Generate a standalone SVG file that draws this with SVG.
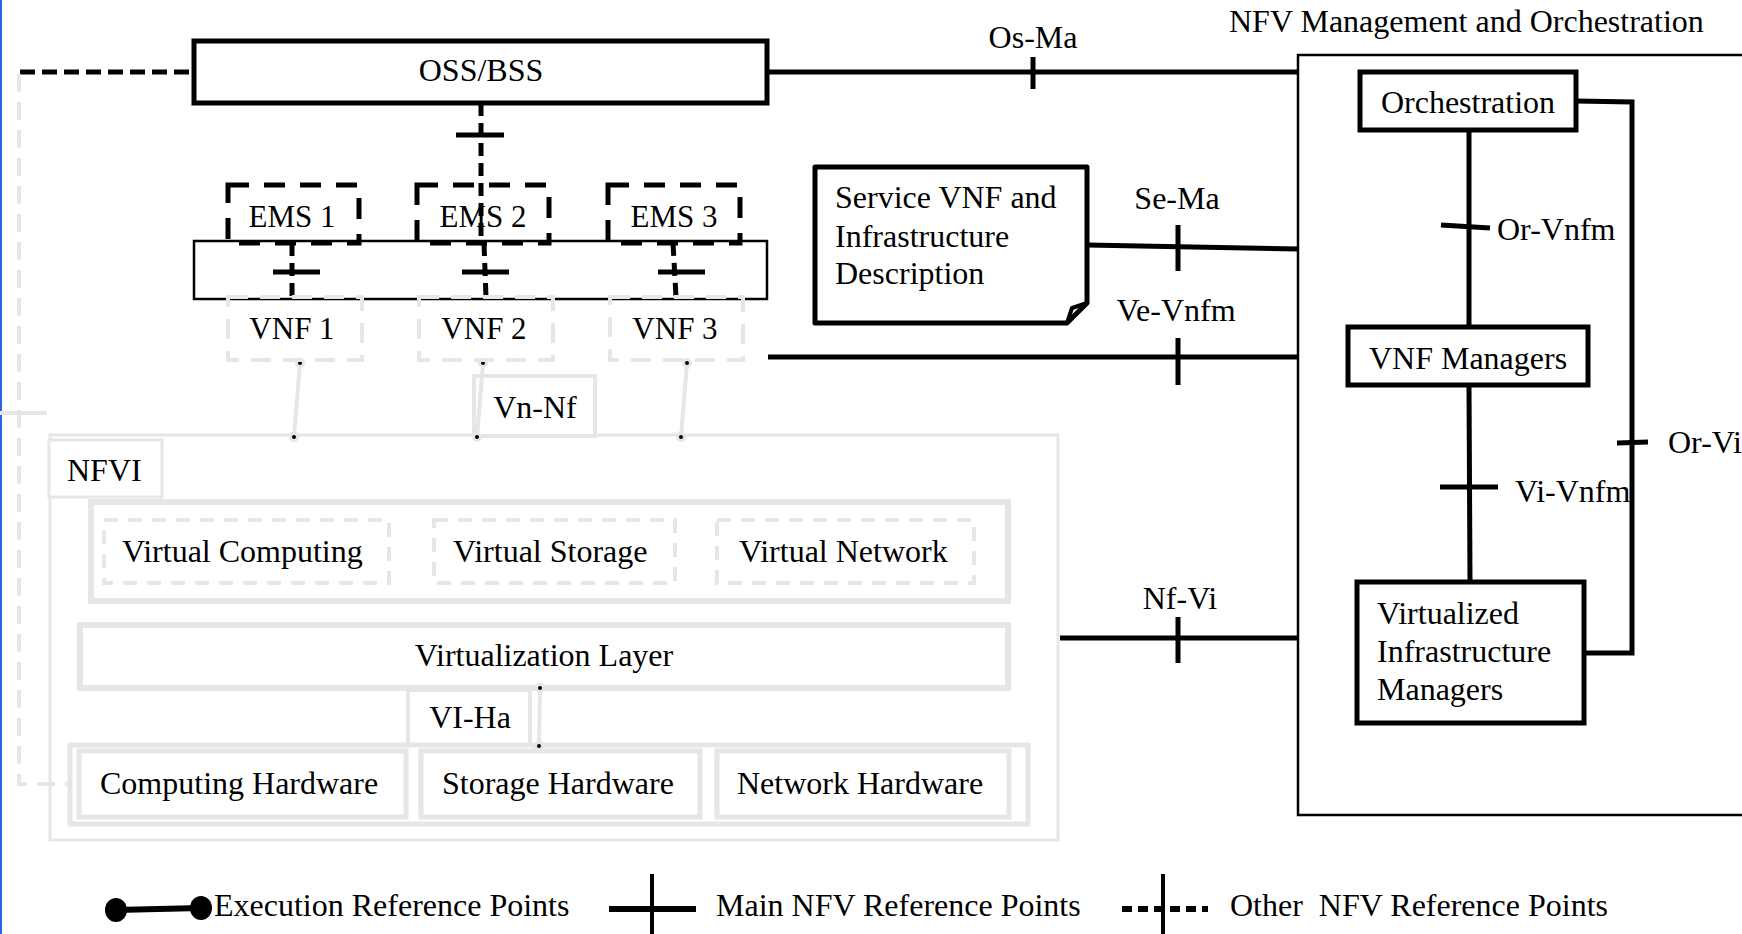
<svg xmlns="http://www.w3.org/2000/svg" width="1742" height="934" viewBox="0 0 1742 934">
<style>
text{font-family:"Liberation Serif","Times New Roman",serif;font-size:32px;fill:#000}
.s31{font-size:31px}
.mid{text-anchor:middle}
.box{fill:#fff;stroke:#000;stroke-width:5}
.thin{fill:none;stroke:#000;stroke-width:2.5}
.emsb{fill:none;stroke:#000;stroke-width:5;stroke-dasharray:21 15}
.vnfb{fill:none;stroke:#e6e6e6;stroke-width:4;stroke-dasharray:20 12}
.gb{fill:#fff;stroke:#e6e6e6}
.gd{fill:none;stroke:#e6e6e6;stroke-width:4;stroke-dasharray:14 10}
.main{fill:none;stroke:#000;stroke-width:5}
.tick{stroke:#000;stroke-width:5}
.other{fill:none;stroke:#000;stroke-width:5;stroke-dasharray:13 7}
.exec{fill:none;stroke:#e6e6e6;stroke-width:4}
.halo{fill:#e6e6e6}
.dot{fill:#000}
</style>
<rect x="0" y="0" width="1742" height="934" fill="#fff"/>
<line x1="1" y1="0" x2="1" y2="934" stroke="#2f62e0" stroke-width="2"/>

<g id="nfvi">
  <rect x="50" y="435" width="1008" height="405" fill="none" stroke="#e6e6e6" stroke-width="3"/>
  <rect x="49" y="440" width="113" height="57" class="gb" stroke-width="3"/>
  <text x="67" y="481">NFVI</text>
</g>

<g id="virtual-resources">
  <rect x="91" y="502" width="917" height="99" class="gb" stroke-width="6"/>
  <rect x="104" y="520" width="285" height="63" class="gd"/>
  <rect x="434" y="520" width="241" height="63" class="gd"/>
  <rect x="717" y="520" width="257" height="63" class="gd"/>
  <text x="122" y="562">Virtual Computing</text>
  <text x="453" y="562">Virtual Storage</text>
  <text x="739" y="562">Virtual Network</text>
</g>

<g id="virtualization-layer">
  <rect x="80" y="625" width="928" height="63" class="gb" stroke-width="6"/>
  <text x="544" y="666" class="mid">Virtualization Layer</text>
</g>

<g id="vi-ha">
  <rect x="408" y="690" width="122" height="55" class="gb" stroke-width="4"/>
  <text x="470" y="728" class="mid">VI-Ha</text>
</g>

<g id="hardware">
  <rect x="70" y="745" width="958" height="79" class="gb" stroke-width="5"/>
  <rect x="79" y="751" width="327" height="66" class="gb" stroke-width="5"/>
  <rect x="421" y="751" width="279" height="66" class="gb" stroke-width="5"/>
  <rect x="717" y="751" width="292" height="66" class="gb" stroke-width="5"/>
  <text x="100" y="794">Computing Hardware</text>
  <text x="442" y="794">Storage Hardware</text>
  <text x="737" y="794">Network Hardware</text>
</g>

<g id="vn-nf">
  <rect x="474" y="376" width="121" height="60" class="gb" stroke-width="4"/>
  <text x="535" y="418" class="mid">Vn-Nf</text>
</g>

<g id="connectors">
  <path d="M20,72 H194" stroke="#000" stroke-width="5" stroke-dasharray="15 7" fill="none"/>
  <path d="M19,74 V784 H72" stroke="#e6e6e6" stroke-width="4" stroke-dasharray="18 10" fill="none"/>
  <line x1="0" y1="413" x2="47" y2="413" stroke="#e6e6e6" stroke-width="4"/>
  <line x1="481" y1="103" x2="481" y2="241" class="other"/>
  <line x1="456" y1="135" x2="504" y2="135" class="tick" stroke-width="6"/>
  <line x1="292" y1="243" x2="292" y2="297" class="other"/>
  <line x1="273" y1="272" x2="320" y2="272" class="tick" stroke-width="6"/>
  <line x1="484" y1="243" x2="486" y2="297" class="other"/>
  <line x1="462" y1="272" x2="509" y2="272" class="tick" stroke-width="6"/>
  <line x1="673" y1="243" x2="676" y2="297" class="other"/>
  <line x1="658" y1="272" x2="705" y2="272" class="tick" stroke-width="6"/>
  <line x1="767" y1="72" x2="1298" y2="72" class="main"/>
  <line x1="1033" y1="57" x2="1033" y2="89" class="tick" stroke-width="4"/>
  <text x="1033" y="48" class="mid">Os-Ma</text>
  <line x1="1087" y1="245" x2="1298" y2="249" class="main"/>
  <line x1="1178" y1="225" x2="1178" y2="271" class="tick"/>
  <text x="1177" y="209" class="mid">Se-Ma</text>
  <line x1="768" y1="357" x2="1298" y2="357" class="main"/>
  <line x1="1178" y1="338" x2="1178" y2="385" class="tick"/>
  <text x="1176" y="321" class="mid">Ve-Vnfm</text>
  <line x1="1060" y1="638" x2="1298" y2="638" class="main"/>
  <line x1="1178" y1="617" x2="1178" y2="663" class="tick"/>
  <text x="1180" y="609" class="mid">Nf-Vi</text>
  <line x1="1469" y1="130" x2="1469" y2="327" class="main"/>
  <line x1="1441" y1="225" x2="1490" y2="228" class="tick" stroke-width="6"/>
  <text x="1497" y="240">Or-Vnfm</text>
  <line x1="1469" y1="385" x2="1470" y2="582" class="main"/>
  <line x1="1440" y1="487" x2="1498" y2="487" class="tick" stroke-width="6"/>
  <text x="1515" y="502">Vi-Vnfm</text>
  <path d="M1576,101 L1632,102 V653 H1584" class="main"/>
  <line x1="1617" y1="443" x2="1648" y2="442" class="tick" stroke-width="6"/>
  <text x="1668" y="453">Or-Vi</text>
  <line x1="300" y1="363" x2="294" y2="437" class="exec"/>
  <line x1="483" y1="363" x2="477" y2="437" class="exec"/>
  <line x1="687" y1="363" x2="681" y2="437" class="exec"/>
  <line x1="540" y1="688" x2="539" y2="746" class="exec"/>
  <circle cx="300" cy="363" r="5" class="halo"/><circle cx="300" cy="363" r="2" class="dot"/>
  <circle cx="483" cy="363" r="5" class="halo"/><circle cx="483" cy="363" r="2" class="dot"/>
  <circle cx="687" cy="363" r="5" class="halo"/><circle cx="687" cy="363" r="2" class="dot"/>
  <circle cx="294" cy="437" r="5" class="halo"/><circle cx="294" cy="437" r="2" class="dot"/>
  <circle cx="477" cy="437" r="5" class="halo"/><circle cx="477" cy="437" r="2" class="dot"/>
  <circle cx="681" cy="437" r="5" class="halo"/><circle cx="681" cy="437" r="2" class="dot"/>
  <circle cx="540" cy="688" r="5" class="halo"/><circle cx="540" cy="688" r="2" class="dot"/>
  <circle cx="539" cy="746" r="5" class="halo"/><circle cx="539" cy="746" r="2" class="dot"/>
</g>

<g id="oss-bss">
  <rect x="194" y="41" width="573" height="62" class="box"/>
  <text x="481" y="81" class="mid">OSS/BSS</text>
</g>

<g id="ems-vnf-frame">
  <rect x="194" y="241" width="573" height="58" class="thin"/>
</g>

<g id="ems1"><rect x="228" y="185" width="131" height="58" class="emsb"/><text x="292" y="227" class="mid s31">EMS 1</text></g>
<g id="ems2"><rect x="417" y="185" width="132" height="58" class="emsb"/><text x="483" y="227" class="mid s31">EMS 2</text></g>
<g id="ems3"><rect x="608" y="185" width="132" height="58" class="emsb"/><text x="674" y="227" class="mid s31">EMS 3</text></g>

<g id="vnf1"><rect x="228" y="297" width="134" height="63" class="vnfb"/><text x="292" y="339" class="mid s31">VNF 1</text></g>
<g id="vnf2"><rect x="419" y="297" width="134" height="63" class="vnfb"/><text x="484" y="339" class="mid s31">VNF 2</text></g>
<g id="vnf3"><rect x="610" y="297" width="133" height="63" class="vnfb"/><text x="675" y="339" class="mid s31">VNF 3</text></g>

<g id="service-description">
  <path d="M815,167 H1087 V303 L1067,323 H815 Z" fill="#fff" stroke="#000" stroke-width="5" stroke-linejoin="round"/>
  <path d="M1067,323 L1072,308 L1087,303" fill="none" stroke="#000" stroke-width="4" stroke-linejoin="round"/>
  <text x="835" y="208">Service VNF and</text>
  <text x="835" y="247">Infrastructure</text>
  <text x="835" y="284">Description</text>
</g>

<g id="mano">
  <rect x="1298" y="55" width="520" height="760" fill="none" stroke="#000" stroke-width="2.5"/>
  <text x="1229" y="32">NFV Management and Orchestration</text>
</g>

<g id="orchestration">
  <rect x="1360" y="72" width="216" height="58" class="box"/>
  <text x="1468" y="113" class="mid">Orchestration</text>
</g>

<g id="vnf-managers">
  <rect x="1348" y="327" width="240" height="58" class="box"/>
  <text x="1468" y="369" class="mid">VNF Managers</text>
</g>

<g id="vim">
  <rect x="1357" y="582" width="227" height="141" class="box"/>
  <text x="1377" y="624">Virtualized</text>
  <text x="1377" y="662">Infrastructure</text>
  <text x="1377" y="700">Managers</text>
</g>

<g id="legend">
  <line x1="116" y1="910" x2="201" y2="908" stroke="#000" stroke-width="6"/>
  <ellipse cx="116" cy="910" rx="11" ry="12" fill="#000"/>
  <ellipse cx="201" cy="908" rx="11" ry="12" fill="#000"/>
  <text x="214" y="916">Execution Reference Points</text>
  <line x1="609" y1="909" x2="696" y2="909" stroke="#000" stroke-width="6"/>
  <line x1="652" y1="874" x2="652" y2="934" stroke="#000" stroke-width="4"/>
  <text x="716" y="916">Main NFV Reference Points</text>
  <line x1="1122" y1="909" x2="1208" y2="909" stroke="#000" stroke-width="6" stroke-dasharray="10 6"/>
  <line x1="1163" y1="874" x2="1163" y2="934" stroke="#000" stroke-width="4"/>
  <text x="1230" y="916" style="white-space:pre">Other  NFV Reference Points</text>
</g>
</svg>
